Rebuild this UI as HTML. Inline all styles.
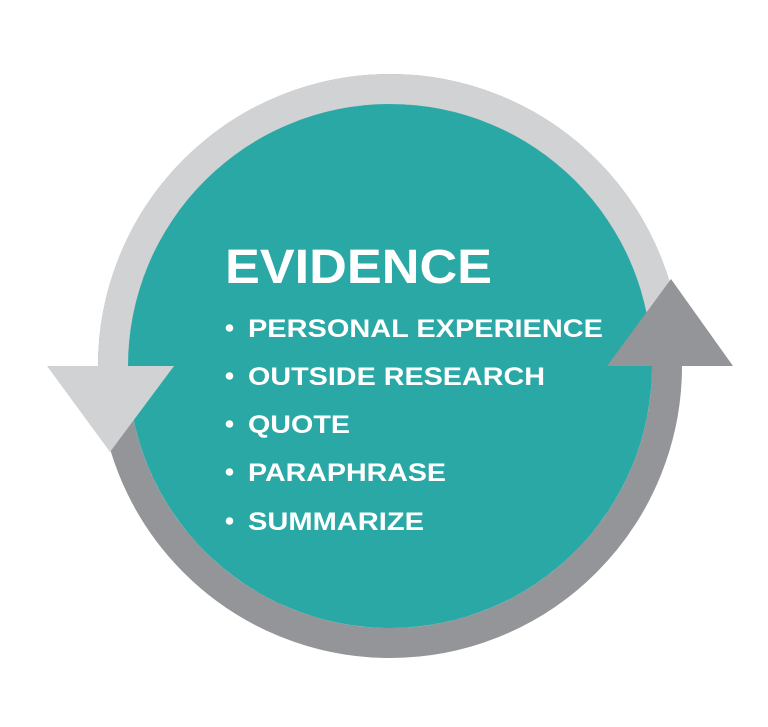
<!DOCTYPE html>
<html><head><style>html,body{margin:0;padding:0;background:#fff;}svg{display:block}</style></head>
<body>
<svg width="768" height="727" viewBox="0 0 768 727" xmlns="http://www.w3.org/2000/svg">
<defs><clipPath id="top"><rect x="0" y="0" width="768" height="366"/></clipPath></defs>
<circle cx="390" cy="366" r="277" fill="none" stroke="#939598" stroke-width="30"/>
<circle cx="390" cy="366" r="277" fill="none" stroke="#d1d2d4" stroke-width="30" clip-path="url(#top)"/>
<circle cx="390" cy="366" r="262" fill="#29a8a6"/>
<polygon points="47,366 174,366 110,452" fill="#d1d2d4"/>
<polygon points="607,366 733,366 671,279" fill="#939598"/>
<g fill="#fff" font-family="Liberation Sans, sans-serif" font-weight="bold">
<text x="225" y="283" font-size="48" textLength="267" lengthAdjust="spacingAndGlyphs">EVIDENCE</text>
<g font-size="25">
<text x="248" y="337" textLength="355" lengthAdjust="spacingAndGlyphs">PERSONAL EXPERIENCE</text>
<text x="248" y="385" textLength="297" lengthAdjust="spacingAndGlyphs">OUTSIDE RESEARCH</text>
<text x="248" y="433" textLength="102" lengthAdjust="spacingAndGlyphs">QUOTE</text>
<text x="248" y="481" textLength="198" lengthAdjust="spacingAndGlyphs">PARAPHRASE</text>
<text x="248" y="530" textLength="176" lengthAdjust="spacingAndGlyphs">SUMMARIZE</text>
</g>
<circle cx="229.5" cy="328" r="3.8"/>
<circle cx="229.5" cy="376" r="3.8"/>
<circle cx="229.5" cy="424" r="3.8"/>
<circle cx="229.5" cy="472" r="3.8"/>
<circle cx="229.5" cy="521" r="3.8"/>
</g>
</svg>
</body></html>
